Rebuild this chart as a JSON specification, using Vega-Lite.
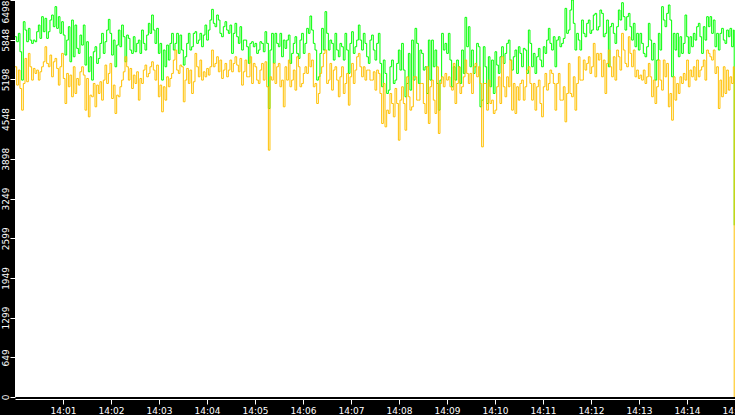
{
"$schema": "https://vega.github.io/schema/vega-lite/v6.json",
"width": 720, "height": 397,
"autosize": {"type": "none"},
"padding": {"left": 15, "top": 0, "right": 0, "bottom": 18},
"background": "black",
"view": {"fill": "white", "stroke": null},
"config": {"font": "DejaVu Sans"},
"data": {"values": [
{"s":0,"g":5897,"o":5405},{"s":2.1,"g":5815,"o":5105},{"s":4.2,"g":5952,"o":5351},{"s":6.2,"g":5651,"o":5050},
{"s":8.3,"g":5187,"o":4695},{"s":10.4,"g":6143,"o":5132},{"s":12.5,"g":6006,"o":5542},{"s":14.6,"g":5815,"o":5160},
{"s":16.7,"g":6034,"o":5624},{"s":18.7,"g":5842,"o":5405},{"s":20.8,"g":5788,"o":5187},{"s":22.9,"g":5842,"o":5378},
{"s":25,"g":5815,"o":5296},{"s":27.1,"g":5979,"o":5351},{"s":29.2,"g":6088,"o":5187},{"s":31.2,"g":5870,"o":5323},
{"s":33.3,"g":6225,"o":5405},{"s":35.4,"g":5979,"o":5487},{"s":37.5,"g":6198,"o":5733},{"s":39.6,"g":5870,"o":5460},
{"s":41.7,"g":5979,"o":5405},{"s":43.7,"g":6170,"o":5597},{"s":45.8,"g":6252,"o":5241},{"s":47.9,"g":6061,"o":5487},
{"s":50,"g":6389,"o":5542},{"s":52.1,"g":6034,"o":5378},{"s":54.2,"g":6225,"o":5105},{"s":56.2,"g":5952,"o":5405},
{"s":58.3,"g":6143,"o":5624},{"s":60.4,"g":5924,"o":5214},{"s":62.5,"g":5597,"o":4804},{"s":64.6,"g":5842,"o":5296},
{"s":66.7,"g":6061,"o":5078},{"s":68.7,"g":5487,"o":5269},{"s":70.8,"g":6170,"o":4914},{"s":72.9,"g":5569,"o":5405},
{"s":75,"g":6088,"o":4968},{"s":77.1,"g":5706,"o":5214},{"s":79.2,"g":5624,"o":5105},{"s":81.2,"g":5924,"o":5323},
{"s":83.3,"g":5760,"o":5405},{"s":85.4,"g":6088,"o":5269},{"s":87.5,"g":5433,"o":4695},{"s":89.6,"g":5815,"o":5214},
{"s":91.7,"g":5323,"o":4586},{"s":93.7,"g":5569,"o":4941},{"s":95.8,"g":5187,"o":4914},{"s":97.9,"g":5651,"o":5132},
{"s":100,"g":5733,"o":4750},{"s":102.1,"g":5460,"o":5105},{"s":104.2,"g":5542,"o":4968},{"s":106.2,"g":5788,"o":5160},
{"s":108.3,"g":5952,"o":4859},{"s":110.4,"g":5624,"o":5187},{"s":112.5,"g":5815,"o":5433},{"s":114.6,"g":6006,"o":5132},
{"s":116.7,"g":6181,"o":5296},{"s":118.7,"g":5952,"o":5460},{"s":120.8,"g":5597,"o":4886},{"s":122.9,"g":5842,"o":5105},
{"s":125,"g":5405,"o":4641},{"s":127.1,"g":5760,"o":4941},{"s":129.2,"g":6006,"o":4914},{"s":131.2,"g":5733,"o":5078},
{"s":133.3,"g":6088,"o":5187},{"s":135.4,"g":5897,"o":5323},{"s":137.5,"g":5487,"o":5569},{"s":139.6,"g":5924,"o":5405},
{"s":141.7,"g":5870,"o":5187},{"s":143.7,"g":5679,"o":5378},{"s":145.8,"g":5624,"o":5050},{"s":147.9,"g":5897,"o":5269},
{"s":150,"g":5651,"o":5132},{"s":152.1,"g":5788,"o":5323},{"s":154.2,"g":5842,"o":4859},{"s":156.2,"g":5624,"o":5214},
{"s":158.3,"g":6006,"o":5132},{"s":160.4,"g":5788,"o":5351},{"s":162.5,"g":5679,"o":5433},{"s":164.6,"g":5924,"o":5241},
{"s":166.7,"g":6116,"o":5296},{"s":168.7,"g":5952,"o":5405},{"s":170.8,"g":6252,"o":5487},{"s":172.9,"g":6006,"o":5351},
{"s":175,"g":5788,"o":5187},{"s":177.1,"g":6034,"o":5433},{"s":179.2,"g":5624,"o":4914},{"s":181.2,"g":5788,"o":5105},
{"s":183.3,"g":5187,"o":4668},{"s":185.4,"g":5679,"o":5078},{"s":187.5,"g":5405,"o":4859},{"s":189.6,"g":5760,"o":5241},
{"s":191.7,"g":5515,"o":5078},{"s":193.7,"g":5788,"o":5214},{"s":195.8,"g":5952,"o":5296},{"s":197.9,"g":5679,"o":5515},
{"s":200,"g":5788,"o":5679},{"s":202.1,"g":5952,"o":5351},{"s":204.2,"g":5624,"o":5296},{"s":206.2,"g":5924,"o":5433},
{"s":208.3,"g":5679,"o":5405},{"s":210.4,"g":5433,"o":4832},{"s":212.5,"g":5569,"o":5187},{"s":214.6,"g":5788,"o":5378},
{"s":216.7,"g":5952,"o":5132},{"s":218.7,"g":5679,"o":5351},{"s":220.8,"g":5733,"o":4968},{"s":222.9,"g":5952,"o":5160},
{"s":225,"g":5979,"o":5624},{"s":227.1,"g":5788,"o":5405},{"s":229.2,"g":5842,"o":5241},{"s":231.2,"g":5952,"o":5515},
{"s":233.3,"g":5733,"o":5187},{"s":235.4,"g":5924,"o":5323},{"s":237.5,"g":6088,"o":5241},{"s":239.6,"g":5842,"o":5378},
{"s":241.7,"g":6006,"o":5269},{"s":243.7,"g":6170,"o":5405},{"s":245.8,"g":6345,"o":5679},{"s":247.9,"g":6116,"o":5405},
{"s":250,"g":6061,"o":5460},{"s":252.1,"g":6252,"o":5569},{"s":254.2,"g":6170,"o":5323},{"s":256.2,"g":5952,"o":5515},
{"s":258.3,"g":5897,"o":5214},{"s":260.4,"g":6061,"o":5351},{"s":262.5,"g":6143,"o":5460},{"s":264.6,"g":6006,"o":5241},
{"s":266.7,"g":5952,"o":5351},{"s":268.7,"g":6088,"o":5515},{"s":270.8,"g":5624,"o":5323},{"s":272.9,"g":5952,"o":5460},
{"s":275,"g":6116,"o":5569},{"s":277.1,"g":5897,"o":5433},{"s":279.2,"g":5788,"o":5323},{"s":281.2,"g":6061,"o":5542},
{"s":283.3,"g":5679,"o":5105},{"s":285.4,"g":5842,"o":5323},{"s":287.5,"g":5842,"o":5515},{"s":289.6,"g":5733,"o":5241},
{"s":291.7,"g":5460,"o":5241},{"s":293.7,"g":5788,"o":5569},{"s":295.8,"g":5815,"o":5132},{"s":297.9,"g":5733,"o":5460},
{"s":300,"g":5788,"o":5405},{"s":302.1,"g":5624,"o":5187},{"s":304.2,"g":5679,"o":5132},{"s":306.2,"g":5815,"o":5351},
{"s":308.3,"g":5788,"o":5460},{"s":310.4,"g":5651,"o":5187},{"s":312.5,"g":5979,"o":5487},{"s":314.6,"g":5788,"o":5078},
{"s":316.7,"g":4722,"o":4040},{"s":318.7,"g":5679,"o":5241},{"s":320.8,"g":5952,"o":5187},{"s":322.9,"g":5460,"o":5460},
{"s":325,"g":5952,"o":5132},{"s":327.1,"g":5788,"o":5405},{"s":329.2,"g":5733,"o":5460},{"s":331.2,"g":5952,"o":5078},
{"s":333.3,"g":5569,"o":5187},{"s":335.4,"g":5842,"o":4750},{"s":337.5,"g":5706,"o":5405},{"s":339.6,"g":5842,"o":5187},
{"s":341.7,"g":5924,"o":5515},{"s":343.7,"g":5460,"o":5078},{"s":345.8,"g":5624,"o":5187},{"s":347.9,"g":5788,"o":5351},
{"s":350,"g":5897,"o":5023},{"s":352.1,"g":5624,"o":5569},{"s":354.2,"g":5542,"o":5405},{"s":356.2,"g":5842,"o":5078},
{"s":358.3,"g":5952,"o":5132},{"s":360.4,"g":5624,"o":5296},{"s":362.5,"g":5788,"o":5405},{"s":364.6,"g":6034,"o":5296},
{"s":366.7,"g":5952,"o":5624},{"s":368.7,"g":6236,"o":5405},{"s":370.8,"g":6006,"o":5515},{"s":372.9,"g":5788,"o":5078},
{"s":375,"g":5679,"o":5132},{"s":377.1,"g":5187,"o":4804},{"s":379.2,"g":5241,"o":4968},{"s":381.2,"g":5624,"o":5296},
{"s":383.3,"g":6034,"o":5405},{"s":385.4,"g":5679,"o":5624},{"s":387.5,"g":6307,"o":5679},{"s":389.6,"g":5952,"o":5132},
{"s":391.7,"g":5679,"o":5187},{"s":393.7,"g":5842,"o":5460},{"s":395.8,"g":5788,"o":5023},{"s":397.9,"g":5515,"o":5351},
{"s":400,"g":5952,"o":5405},{"s":402.1,"g":5679,"o":5187},{"s":404.2,"g":5569,"o":4914},{"s":406.2,"g":5788,"o":5241},
{"s":408.3,"g":5733,"o":5405},{"s":410.4,"g":5515,"o":4968},{"s":412.5,"g":5952,"o":5132},{"s":414.6,"g":5679,"o":5296},
{"s":416.7,"g":5296,"o":4777},{"s":418.7,"g":5788,"o":5241},{"s":420.8,"g":5979,"o":5460},{"s":422.9,"g":5624,"o":5132},
{"s":425,"g":5733,"o":5351},{"s":427.1,"g":5842,"o":5569},{"s":429.2,"g":6088,"o":5624},{"s":431.2,"g":5842,"o":5405},
{"s":433.3,"g":5679,"o":5241},{"s":435.4,"g":5952,"o":5405},{"s":437.5,"g":5788,"o":5187},{"s":439.6,"g":5569,"o":5351},
{"s":441.7,"g":5460,"o":5351},{"s":443.7,"g":5842,"o":5187},{"s":445.8,"g":5924,"o":5187},{"s":447.9,"g":5679,"o":5323},
{"s":450,"g":5515,"o":5023},{"s":452.1,"g":5788,"o":5351},{"s":454.2,"g":5952,"o":5296},{"s":456.2,"g":5460,"o":4968},
{"s":458.3,"g":5078,"o":4477},{"s":460.4,"g":5515,"o":5132},{"s":462.5,"g":5296,"o":4422},{"s":464.6,"g":4968,"o":4695},
{"s":466.7,"g":5023,"o":4641},{"s":468.7,"g":5405,"o":4968},{"s":470.8,"g":5515,"o":4804},{"s":472.9,"g":5132,"o":4586},
{"s":475,"g":5187,"o":5050},{"s":477.1,"g":5460,"o":4804},{"s":479.2,"g":5679,"o":4203},{"s":481.2,"g":5351,"o":4859},
{"s":483.3,"g":5788,"o":5078},{"s":485.4,"g":5351,"o":4804},{"s":487.5,"g":4914,"o":4367},{"s":489.6,"g":5132,"o":5241},
{"s":491.7,"g":5624,"o":4914},{"s":493.7,"g":5023,"o":4695},{"s":495.8,"g":5842,"o":4750},{"s":497.9,"g":5187,"o":5241},
{"s":500,"g":6034,"o":5241},{"s":502.1,"g":5788,"o":4859},{"s":504.2,"g":5132,"o":4859},{"s":506.2,"g":5679,"o":5132},
{"s":508.3,"g":5624,"o":5132},{"s":510.4,"g":5351,"o":4804},{"s":512.5,"g":5405,"o":4641},{"s":514.6,"g":4968,"o":5405},
{"s":516.7,"g":5842,"o":4477},{"s":518.7,"g":5187,"o":5078},{"s":520.8,"g":5842,"o":5187},{"s":522.9,"g":5405,"o":4859},
{"s":525,"g":5679,"o":4641},{"s":527.1,"g":5132,"o":5405},{"s":529.2,"g":4695,"o":4313},{"s":531.2,"g":5187,"o":5132},
{"s":533.3,"g":5952,"o":5241},{"s":535.4,"g":5679,"o":5078},{"s":537.5,"g":5788,"o":5296},{"s":539.6,"g":5624,"o":5187},
{"s":541.7,"g":5952,"o":5241},{"s":543.7,"g":5515,"o":5078},{"s":545.8,"g":5078,"o":5023},{"s":547.9,"g":5405,"o":5460},
{"s":550,"g":5187,"o":4804},{"s":552.1,"g":5515,"o":5132},{"s":554.2,"g":5405,"o":5405},{"s":556.2,"g":5132,"o":4968},
{"s":558.3,"g":5679,"o":5078},{"s":560.4,"g":5296,"o":5241},{"s":562.5,"g":6214,"o":5515},{"s":564.6,"g":5733,"o":5296},
{"s":566.7,"g":6061,"o":5132},{"s":568.7,"g":5405,"o":5296},{"s":570.8,"g":5679,"o":4968},{"s":572.9,"g":5296,"o":5405},
{"s":575,"g":5405,"o":5460},{"s":577.1,"g":5788,"o":5241},{"s":579.2,"g":5733,"o":5405},{"s":581.2,"g":4750,"o":5132},
{"s":583.3,"g":4859,"o":4094},{"s":585.4,"g":5733,"o":5132},{"s":587.5,"g":5405,"o":5132},{"s":589.6,"g":4804,"o":4695},
{"s":591.7,"g":5569,"o":5187},{"s":593.7,"g":5078,"o":4804},{"s":595.8,"g":5515,"o":4859},{"s":597.9,"g":4968,"o":4641},
{"s":600,"g":5651,"o":4695},{"s":602.1,"g":5433,"o":5078},{"s":604.2,"g":5296,"o":5241},{"s":606.2,"g":5569,"o":4804},
{"s":608.3,"g":5733,"o":5569},{"s":610.4,"g":5460,"o":5078},{"s":612.5,"g":5624,"o":4914},{"s":614.6,"g":5788,"o":5241},
{"s":616.7,"g":5842,"o":5078},{"s":618.7,"g":5515,"o":5515},{"s":620.8,"g":5351,"o":4695},{"s":622.9,"g":5569,"o":5132},
{"s":625,"g":5679,"o":4641},{"s":627.1,"g":5296,"o":5078},{"s":629.2,"g":5733,"o":4859},{"s":631.2,"g":5624,"o":5132},
{"s":633.3,"g":5405,"o":5187},{"s":635.4,"g":5706,"o":4859},{"s":637.5,"g":5679,"o":5078},{"s":639.6,"g":5296,"o":5351},
{"s":641.7,"g":6006,"o":5405},{"s":643.7,"g":5788,"o":5132},{"s":645.8,"g":5405,"o":4859},{"s":647.9,"g":5624,"o":5132},
{"s":650,"g":5296,"o":4695},{"s":652.1,"g":5569,"o":5078},{"s":654.2,"g":5706,"o":5187},{"s":656.2,"g":5515,"o":4804},
{"s":658.3,"g":5405,"o":4586},{"s":660.4,"g":5733,"o":5078},{"s":662.5,"g":5624,"o":5296},{"s":664.6,"g":5842,"o":5023},
{"s":666.7,"g":6034,"o":5132},{"s":668.7,"g":5788,"o":5351},{"s":670.8,"g":5679,"o":5296},{"s":672.9,"g":5897,"o":5132},
{"s":675,"g":5405,"o":4695},{"s":677.1,"g":5842,"o":5132},{"s":679.2,"g":5897,"o":5296},{"s":681.2,"g":5733,"o":4859},
{"s":683.3,"g":5788,"o":4859},{"s":685.4,"g":5870,"o":5078},{"s":687.5,"g":6361,"o":4504},{"s":689.6,"g":5952,"o":4968},
{"s":691.7,"g":6006,"o":5460},{"s":693.7,"g":6334,"o":4968},{"s":695.8,"g":6498,"o":4914},{"s":697.9,"g":6116,"o":5241},
{"s":700,"g":5679,"o":4695},{"s":702.1,"g":5952,"o":5132},{"s":704.2,"g":5842,"o":5569},{"s":706.2,"g":5679,"o":5187},
{"s":708.3,"g":6170,"o":5187},{"s":710.4,"g":5952,"o":5515},{"s":712.5,"g":5897,"o":5351},{"s":714.6,"g":6116,"o":5460},
{"s":716.7,"g":6170,"o":5569},{"s":718.7,"g":5952,"o":5296},{"s":720.8,"g":6006,"o":5405},{"s":722.9,"g":6252,"o":5788},
{"s":725,"g":6279,"o":5241},{"s":727.1,"g":6006,"o":5624},{"s":729.2,"g":6061,"o":5515},{"s":731.2,"g":6334,"o":5624},
{"s":733.3,"g":6279,"o":5241},{"s":735.4,"g":5897,"o":5515},{"s":737.5,"g":5952,"o":4968},{"s":739.6,"g":6170,"o":5460},
{"s":741.7,"g":5405,"o":5679},{"s":743.7,"g":6061,"o":5405},{"s":745.8,"g":6116,"o":5241},{"s":747.9,"g":5952,"o":5569},
{"s":750,"g":5788,"o":5187},{"s":752.1,"g":6061,"o":5679},{"s":754.2,"g":6334,"o":5569},{"s":756.2,"g":6170,"o":5351},
{"s":758.3,"g":6454,"o":5952},{"s":760.4,"g":6225,"o":5679},{"s":762.5,"g":6006,"o":5460},{"s":764.6,"g":6225,"o":5405},
{"s":766.7,"g":6279,"o":5897},{"s":768.7,"g":6061,"o":5624},{"s":770.8,"g":5842,"o":5405},{"s":772.9,"g":6116,"o":5679},
{"s":775,"g":5733,"o":5241},{"s":777.1,"g":5952,"o":5351},{"s":779.2,"g":5679,"o":5214},{"s":781.2,"g":5952,"o":5269},
{"s":783.3,"g":5788,"o":5187},{"s":785.4,"g":5624,"o":5351},{"s":787.5,"g":5569,"o":5132},{"s":789.6,"g":5733,"o":5241},
{"s":791.7,"g":6116,"o":5460},{"s":793.7,"g":5842,"o":5241},{"s":795.8,"g":5515,"o":4914},{"s":797.9,"g":5788,"o":5187},
{"s":800,"g":5187,"o":4804},{"s":802.1,"g":5515,"o":5078},{"s":804.2,"g":5952,"o":5515},{"s":806.2,"g":5679,"o":5187},
{"s":808.3,"g":6389,"o":5023},{"s":810.4,"g":6170,"o":5515},{"s":812.5,"g":6061,"o":5241},{"s":814.6,"g":6279,"o":5460},
{"s":816.7,"g":6416,"o":4750},{"s":818.7,"g":6170,"o":4968},{"s":820.8,"g":5241,"o":4531},{"s":822.9,"g":5952,"o":5241},
{"s":825,"g":5679,"o":4859},{"s":827.1,"g":5952,"o":5132},{"s":829.2,"g":5569,"o":4968},{"s":831.2,"g":5897,"o":5241},
{"s":833.3,"g":5624,"o":5132},{"s":835.4,"g":5788,"o":5296},{"s":837.5,"g":6252,"o":5187},{"s":839.6,"g":5897,"o":5515},
{"s":841.7,"g":5624,"o":5078},{"s":843.7,"g":5897,"o":5351},{"s":845.8,"g":5733,"o":5241},{"s":847.9,"g":5952,"o":5405},
{"s":850,"g":5842,"o":5187},{"s":852.1,"g":6061,"o":5515},{"s":854.2,"g":6116,"o":5241},{"s":856.2,"g":5897,"o":5351},
{"s":858.3,"g":5624,"o":5405},{"s":860.4,"g":6061,"o":5515},{"s":862.5,"g":5842,"o":5187},{"s":864.6,"g":6225,"o":5679},
{"s":866.7,"g":6061,"o":5624},{"s":868.7,"g":6225,"o":5569},{"s":870.8,"g":5952,"o":5515},{"s":872.9,"g":6170,"o":5679},
{"s":875,"g":5733,"o":5296},{"s":877.1,"g":5952,"o":5405},{"s":879.2,"g":5679,"o":4722},{"s":881.2,"g":5952,"o":5187},
{"s":883.3,"g":6034,"o":4914},{"s":885.4,"g":5842,"o":5405},{"s":887.5,"g":5788,"o":4968},{"s":889.6,"g":6006,"o":5351},
{"s":891.7,"g":5897,"o":5023},{"s":893.7,"g":6034,"o":5241},{"s":895.8,"g":5733,"o":5132},{"s":897.9,"g":6006,"o":5405},
{"s":899,"g":2810,"o":0}
]},
"transform": [{"fold": ["g", "o"], "as": ["series", "value"]}],
"mark": {"type": "line", "interpolate": "step-after", "strokeWidth": 1},
"encoding": {
  "x": {"field": "s", "type": "quantitative", "title": null,
    "scale": {"domain": [0, 900], "nice": false, "zero": false},
    "axis": {"values": [60, 120, 180, 240, 300, 360, 420, 480, 540, 600, 660, 720, 780, 840, 900],
      "labelExpr": "'14:' + (datum.value < 600 ? '0' : '') + (datum.value / 60)",
      "grid": false, "offset": 2, "domainColor": "white", "tickColor": "white", "tickSize": 5,
      "labelColor": "white", "labelFontSize": 9, "labelPadding": 2, "labelOverlap": false, "labelBound": false, "labelFlush": false}
  },
  "y": {"field": "value", "type": "quantitative", "title": null,
    "scale": {"domain": [0, 6498], "nice": false, "zero": true},
    "axis": {"values": [0, 649.8, 1299.6, 1949.4, 2599.2, 3249, 3898.8, 4548.6, 5198.4, 5848.2, 6498],
      "labelExpr": "'' + floor(datum.value)", "grid": false, "domain": false, "tickColor": "white", "tickSize": 5,
      "labelColor": "white", "labelFontSize": 9, "labelPadding": 0, "labelAngle": 270,
      "labelAlign": {"condition": {"test": "datum.value > 6400", "value": "right"}, "value": "center"},
      "labelBaseline": "bottom", "labelOverlap": false, "labelBound": false}
  },
  "color": {"field": "series", "type": "nominal", "legend": null,
    "scale": {"domain": ["g", "o"], "range": ["#00ff00", "#ffc000"]}}
}
}
